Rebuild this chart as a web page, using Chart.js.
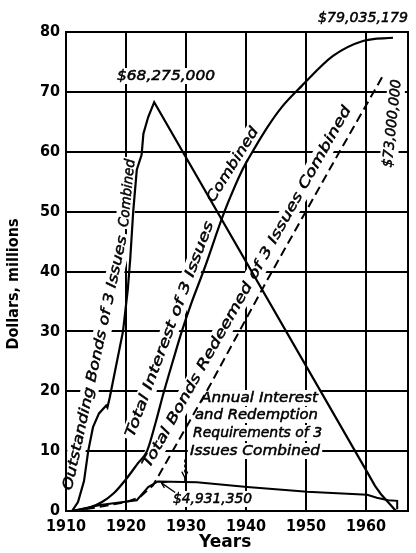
<!DOCTYPE html>
<html lang="en">
<head>
<meta charset="UTF-8">
<title>Bonds of 3 issues combined</title>
<script src="https://cdn.jsdelivr.net/npm/chart.js@4"></script>
<style>
  body { margin: 0; background: #fff; }
  canvas { display: block; }
</style>
</head>
<body>
<canvas id="chart" width="416" height="553"></canvas>
<script>
// values are millions of dollars
const yearTicks = [1910, 1920, 1930, 1940, 1950, 1960];
const dollarTicks = [0, 10, 20, 30, 40, 50, 60, 70, 80];

// outstanding bonds (peak $68,275,000)
const outstandingYears  = [1911, 1912, 1913, 1913.7, 1914.5, 1915.5, 1916.7, 1916.9, 1917.3, 1918.2, 1919.5, 1920.3, 1920.7, 1921.2, 1921.8, 1922.6, 1922.9, 1923.7, 1924.7, 1960.2, 1961.5, 1962.5, 1965];
const outstandingValues = [0, 1.5, 5, 10, 14, 16.3, 17.6, 17.3, 19, 23.5, 30, 37, 42, 50, 57, 59.5, 63, 65.8, 68.275, 6.5, 4.2, 2.8, 0];

// total interest (ends at $79,035,179)
const interestYears  = [1911, 1914, 1916, 1918, 1920, 1922, 1923.5, 1925, 1926.2, 1927.8, 1929.3, 1931, 1933, 1936, 1937, 1939.3, 1940.5, 1943.5, 1946, 1949.3, 1954.5, 1959.5, 1964.5];
const interestValues = [0, 0.6, 1.5, 3, 5.3, 8, 10, 15, 19.5, 25, 30, 35, 40.3, 48.9, 51.5, 56.8, 59, 64, 67.5, 71, 76, 78.5, 79.035];

// total bonds redeemed (ends at $73,000,000)
const redeemedYears  = [1911, 1914.5, 1920, 1922.3, 1924.5, 1925.5, 1934, 1943.5, 1955.7, 1963];
const redeemedValues = [0, 0.5, 1.5, 2.3, 4.3, 6, 21, 38.5, 60.2, 73];

// annual interest and redemption requirements (peak $4,931,350)
const annualYears  = [1911, 1915.7, 1921.8, 1923.7, 1925.3, 1931.8, 1940.2, 1950.2, 1960.2, 1961.8, 1963.7, 1965.2, 1965.2];
const annualValues = [0, 1, 1.8, 4, 4.931, 4.8, 4.0, 3.2, 2.7, 2.2, 1.8, 1.7, 0.3];

const pts = (xs, ys) => xs.map((x, i) => ({ x: x, y: ys[i] }));

const tickFont = { family: "'Liberation Sans Narrow', 'DejaVu Sans Condensed', sans-serif", size: 16, weight: 'bold' };
const noteFont = '"DejaVu Sans", sans-serif';

// hand lettering on the chart: [text, year, value, angle, width, align]
// the long captions bend with their curves, so they are set in two pieces
const notes = [
  ['Outstanding Bonds of 3 Issues', 1914.92, 24.72, -77.8, 260, 'center'],
  ['Combined', 1920.25, 53.1, -84.3, 68, 'center'],
  ['Total Interest of 3 Issues', 1927.33, 30.31, -69.6, 229, 'center'],
  ['Combined', 1937.83, 57.8, -58, 85, 'center'],
  ['Total Bonds Redeemed of 3 Issues Combined', 1940.2, 37.4, -60.7, 412, 'center'],
  ['$73,000,000', 1964.42, 64.72, -84, 88, 'center'],
  ['$68,275,000', 1918.5, 71.98, 0, 98, 'left'],
  ['$79,035,179', 1952, 81.67, 0, 90, 'left'],
  ['$4,931,350', 1927.83, 1.34, 0, 79, 'left'],
  ['Annual Interest', 1932.5, 18.2, 0, 117, 'left'],
  ['and Redemption', 1931.5, 15.37, 0, 123, 'left'],
  ['Requirements of 3', 1931.17, 12.36, 0, 129, 'left'],
  ['Issues Combined', 1930.67, 9.35, 0, 130, 'left']
];

function eachNote(chart, fn) {
  const ctx = chart.ctx, sx = chart.scales.x, sy = chart.scales.y;
  notes.forEach(n => {
    ctx.save();
    ctx.translate(sx.getPixelForValue(n[1]), sy.getPixelForValue(n[2]));
    ctx.rotate(n[3] * Math.PI / 180);
    ctx.font = 'italic 14px ' + noteFont;
    const w = ctx.measureText(n[0]).width;
    ctx.scale(n[4] / w, 1);
    ctx.textAlign = n[5];
    ctx.textBaseline = n[5] === 'center' ? 'middle' : 'alphabetic';
    fn(ctx, n, w);
    ctx.restore();
  });
}

const lettering = {
  id: 'lettering',
  beforeDatasetsDraw(chart) {
    // white patches so grid lines break around the lettering
    eachNote(chart, (ctx, n, w) => {
      ctx.fillStyle = '#fff';
      if (n[5] === 'center') ctx.fillRect(-w / 2 - 2, -9, w + 4, 18);
      else ctx.fillRect(-2, -12, w + 4, 16);
    });
    eachNote(chart, (ctx, n) => {
      ctx.fillStyle = '#000';
      ctx.strokeStyle = '#000';
      ctx.lineWidth = 0.5;
      ctx.fillText(n[0], 0, 0);
      ctx.strokeText(n[0], 0, 0);
    });
  },
  afterDatasetsDraw(chart) {
    const ctx = chart.ctx, a = chart.chartArea, sx = chart.scales.x, sy = chart.scales.y;
    ctx.save();
    ctx.strokeStyle = '#000';
    ctx.lineWidth = 2;
    ctx.strokeRect(a.left, a.top, a.right - a.left, a.bottom - a.top);
    // arrow from the $4,931,350 note to the peak
    ctx.lineWidth = 1.3;
    const x1 = sx.getPixelForValue(1928.2), y1 = sy.getPixelForValue(3.1);
    const x2 = sx.getPixelForValue(1925.9), y2 = sy.getPixelForValue(4.7);
    ctx.beginPath(); ctx.moveTo(x1, y1); ctx.lineTo(x2, y2); ctx.stroke();
    ctx.beginPath(); ctx.moveTo(x2 + 6, y2 - 1); ctx.lineTo(x2, y2); ctx.lineTo(x2 + 3, y2 + 5); ctx.stroke();
    // leader from the annual note down to its line
    const lx = sx.getPixelForValue(1929.8);
    const ly1 = sy.getPixelForValue(8.6), ly2 = sy.getPixelForValue(4.9);
    ctx.setLineDash([3, 2]);
    ctx.beginPath(); ctx.moveTo(lx, ly1); ctx.lineTo(lx, ly2 - 8); ctx.stroke();
    ctx.setLineDash([]);
    ctx.beginPath(); ctx.moveTo(lx - 3, ly2 - 10); ctx.lineTo(lx, ly2 - 4); ctx.lineTo(lx + 3, ly2 - 10); ctx.stroke();
    ctx.beginPath(); ctx.moveTo(lx, ly2 - 4); ctx.lineTo(lx, ly2); ctx.stroke();
    ctx.restore();
  }
};

const line = (data, extra) => Object.assign({
  data: data, showLine: true, borderColor: '#000', borderWidth: 2.2,
  pointRadius: 0, fill: false, tension: 0
}, extra);

new Chart(document.getElementById('chart'), {
  type: 'scatter',
  data: {
    datasets: [
      line(pts(outstandingYears, outstandingValues), { label: 'Outstanding Bonds' }),
      line(pts(interestYears, interestValues), { label: 'Total Interest', cubicInterpolationMode: 'monotone' }),
      line(pts(redeemedYears, redeemedValues), { label: 'Total Bonds Redeemed', borderDash: [9, 5], borderWidth: 2 }),
      line(pts(annualYears, annualValues), { label: 'Annual Interest and Redemption', borderWidth: 2 })
    ]
  },
  options: {
    responsive: false,
    animation: false,
    devicePixelRatio: 1,
    layout: { padding: { top: 32, right: 8, left: 0, bottom: 0 } },
    plugins: { legend: { display: false }, tooltip: { enabled: false } },
    scales: {
      x: {
        type: 'linear', min: 1910, max: 1967,
        afterBuildTicks: s => { s.ticks = yearTicks.map(v => ({ value: v })); },
        afterFit: s => { s.height = 42; },
        grid: { color: '#000', lineWidth: 2, drawTicks: false },
        border: { display: false },
        ticks: { color: '#000', font: tickFont, padding: 6, maxRotation: 0, callback: v => String(v) },
        // trailing spaces move the title a little left, as printed
        title: { display: true, text: 'Years    ', color: '#000', padding: 0,
                 font: { family: "'DejaVu Sans', sans-serif", size: 17, weight: 'bold' } }
      },
      y: {
        min: 0, max: 80,
        afterBuildTicks: s => { s.ticks = dollarTicks.map(v => ({ value: v })); },
        afterFit: s => { s.width = 66; },
        grid: { color: '#000', lineWidth: 2, drawTicks: false },
        border: { display: false },
        ticks: { color: '#000', font: tickFont, padding: 6, callback: v => String(v) },
        title: { display: true, text: 'Dollars, millions     ', color: '#000', padding: { top: 4 },
                 font: { family: "'DejaVu Sans Condensed', sans-serif", size: 16, weight: 'bold' } }
      }
    }
  },
  plugins: [lettering]
});
</script>
</body>
</html>
